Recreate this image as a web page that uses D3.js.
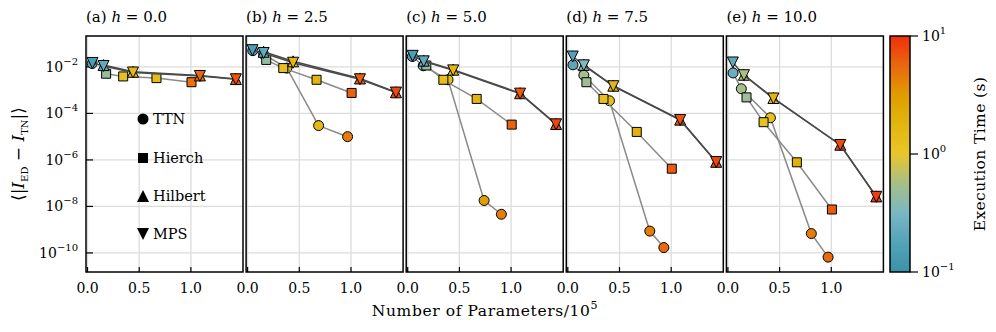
<!DOCTYPE html>
<html>
<head>
<meta charset="utf-8">
<script src="https://cdn.jsdelivr.net/npm/d3@7"></script>
<style>
  body { margin: 0; background: #fff; }
  svg text { font-family: "DejaVu Serif", serif; fill: #000; }
</style>
</head>
<body>
<svg id="chart" width="996" height="332"></svg>
<script>
// panel labels
const panelLetters = ['a', 'b', 'c', 'd', 'e'];
const hValues = ['0.0', '2.5', '5.0', '7.5', '10.0'];

// ticks
const xTicks = [0, 0.5, 1.0];
const yTicks = [1e-10, 1e-8, 1e-6, 1e-4, 1e-2];
const cbTicks = [0.1, 1, 10];

// TTN (circles)
const ttnX = [
  [0.045],
  [0.05, 0.155, 0.38, 0.687, 0.967],
  [0.045, 0.15, 0.39, 0.739, 0.906],
  [0.05, 0.155, 0.403, 0.793, 0.929],
  [0.05, 0.13, 0.411, 0.807, 0.969]
];
const ttnErr = [
  [1.4e-2],
  [5.0e-2, 3.5e-2, 8.9e-3, 3.0e-5, 1.0e-5],
  [2.8e-2, 1.12e-2, 2.8e-3, 1.8e-8, 4.6e-9],
  [1.23e-2, 4.4e-3, 3.5e-4, 8.7e-10, 1.7e-10],
  [5.5e-3, 1.15e-3, 6.5e-5, 6.8e-10, 6.6e-11]
];
const ttnTime = [
  [0.18],
  [0.16, 0.3, 1.2, 1.6, 4.5],
  [0.17, 0.4, 1.3, 3.0, 4.5],
  [0.2, 0.55, 1.3, 4.5, 5.5],
  [0.25, 0.55, 1.2, 4.5, 5.5]
];

// Hierch (squares)
const hierchX = [0.18, 0.345, 0.667, 1.006];
const hierchErr = [
  [5.1e-3, 3.9e-3, 3.3e-3, 2.2e-3],
  [2.0e-2, 8.9e-3, 2.8e-3, 7.6e-4],
  [1.15e-2, 2.8e-3, 4.2e-4, 3.3e-5],
  [2.2e-3, 4.2e-4, 1.6e-5, 4.2e-7],
  [4.9e-4, 4.2e-5, 7.9e-7, 7.4e-9]
];
const hierchTime = [
  [0.45, 1.2, 1.4, 5.0],
  [0.45, 1.3, 1.8, 6.0],
  [0.45, 1.3, 1.8, 6.0],
  [0.5, 1.3, 2.0, 6.5],
  [0.5, 1.2, 2.0, 6.5]
];

// Hilbert (up triangles)
const hilbertX = [0.155, 0.44, 1.087, 1.435];
const hilbertErr = [
  [1.2e-2, 6.2e-3, 4.3e-3, 3.0e-3],
  [4.5e-2, 1.74e-2, 3.2e-3, 8.1e-4],
  [1.86e-2, 7.6e-3, 7.4e-4, 3.5e-5],
  [1.23e-2, 1.55e-3, 5.4e-5, 8.3e-7],
  [4.6e-3, 4.6e-4, 4.5e-6, 2.7e-8]
];
const hilbertTime = [
  [0.22, 1.6, 5.5, 7.0],
  [0.22, 1.7, 6.0, 7.5],
  [0.22, 1.7, 6.5, 8.0],
  [0.35, 1.7, 7.0, 8.0],
  [0.6, 1.7, 7.5, 8.5]
];

// MPS (down triangles)
const mpsX = [0.048, 0.155, 0.44, 1.087, 1.435];
const mpsErr = [
  [1.48e-2, 1.10e-2, 5.75e-3, 4.07e-3, 2.95e-3],
  [5.25e-2, 3.98e-2, 1.51e-2, 2.95e-3, 7.9e-4],
  [3.0e-2, 1.74e-2, 7.1e-3, 7.1e-4, 3.4e-5],
  [2.8e-2, 1.17e-2, 1.48e-3, 5.2e-5, 8.1e-7],
  [1.55e-2, 4.4e-3, 4.4e-4, 4.4e-6, 2.6e-8]
];
const mpsTime = [
  [0.15, 0.22, 1.6, 5.5, 7.0],
  [0.15, 0.22, 1.7, 6.0, 7.5],
  [0.15, 0.22, 1.7, 6.5, 8.0],
  [0.18, 0.35, 1.7, 7.0, 8.0],
  [0.22, 0.6, 1.7, 7.5, 8.5]
];

const legendNames = ['TTN', 'Hierch', 'Hilbert', 'MPS'];

// layout
const mTop = 36, ph = 236, pw = 157, left0 = 86, step = 160.1;
const svg = d3.select('#chart');

const x = d3.scaleLinear().domain([-0.0145, 1.504]).range([0, pw]);
const y = d3.scaleLog().domain([Math.pow(10, -10.82), Math.pow(10, -0.67)]).range([ph, 0]);

const cmapStops = ['#3a93aa', '#52a3b8', '#7ab7c4', '#a6bf88', '#e8c62a', '#e3b60e', '#e09c00', '#e9680e', '#f0300a'];
const color = d3.scaleSequentialLog(d3.piecewise(d3.interpolateRgb, cmapStops)).domain([0.1, 10]);

const tri = s => `M0,${-s}L${s},${s}L${-s},${s}Z`;
const triDown = s => `M0,${s}L${s},${-s}L${-s},${-s}Z`;
const square = s => `M${-s},${-s}H${s}V${s}H${-s}Z`;

function sup(sel, base, exp, size) {
  sel.append('tspan').text(base);
  sel.append('tspan').attr('dy', -7).attr('font-size', size).text(exp);
}

function drawSeries(g, xs, ys, ts, lineColor, shape) {
  const line = d3.line().x(d => x(d[0])).y(d => y(d[1]));
  const pts = xs.map((v, i) => [v, ys[i], ts[i]]);
  g.append('path')
    .attr('d', line(pts))
    .attr('fill', 'none')
    .attr('stroke', lineColor)
    .attr('stroke-width', 1.5);
  pts.forEach(p => {
    const m = shape === 'circle'
      ? g.append('circle').attr('cx', x(p[0])).attr('cy', y(p[1])).attr('r', 5)
      : g.append('path').attr('transform', `translate(${x(p[0])},${y(p[1])})`).attr('d', shape);
    m.attr('fill', color(p[2])).attr('stroke', '#000').attr('stroke-width', 1);
  });
}

for (let i = 0; i < 5; i++) {
  const g = svg.append('g').attr('transform', `translate(${left0 + i * step},${mTop})`);

  // grid
  g.selectAll('.gx').data(xTicks).join('line')
    .attr('x1', d => x(d)).attr('x2', d => x(d)).attr('y1', 0).attr('y2', ph)
    .attr('stroke', '#dcdcdc').attr('stroke-width', 1.3);
  g.selectAll('.gy').data(yTicks).join('line')
    .attr('x1', 0).attr('x2', pw).attr('y1', d => y(d)).attr('y2', d => y(d))
    .attr('stroke', '#dcdcdc').attr('stroke-width', 1.3);

  // bottom ticks (inside) and labels
  g.selectAll('.tx').data(xTicks).join('line')
    .attr('x1', d => x(d)).attr('x2', d => x(d)).attr('y1', ph).attr('y2', ph - 5)
    .attr('stroke', '#000').attr('stroke-width', 1.2);
  g.selectAll('.lx').data(xTicks).join('text')
    .attr('x', d => x(d)).attr('y', ph + 21)
    .attr('text-anchor', 'middle').attr('font-size', 14)
    .text(d => d.toFixed(1));

  if (i === 0) {
    g.selectAll('.ty').data(yTicks).join('line')
      .attr('x1', 0).attr('x2', 7).attr('y1', d => y(d)).attr('y2', d => y(d))
      .attr('stroke', '#000').attr('stroke-width', 1.2);
    yTicks.forEach(t => {
      const e = Math.round(Math.log10(t));
      const txt = g.append('text').attr('x', -8).attr('y', y(t) + 5)
        .attr('text-anchor', 'end').attr('font-size', 14);
      sup(txt, '10', '\u2212' + Math.abs(e), 10);
    });
  }

  // title
  const title = g.append('text').attr('x', 0).attr('y', -14).attr('font-size', 15);
  title.append('tspan').text(`(${panelLetters[i]}) `);
  title.append('tspan').attr('font-style', 'italic').text('h');
  title.append('tspan').text(` = ${hValues[i]}`);

  // series
  drawSeries(g, ttnX[i], ttnErr[i], ttnTime[i], '#8a8a8a', 'circle');
  drawSeries(g, hierchX, hierchErr[i], hierchTime[i], '#8a8a8a', square(4.5));
  drawSeries(g, hilbertX, hilbertErr[i], hilbertTime[i], '#4a4a4a', tri(5.5));
  drawSeries(g, mpsX, mpsErr[i], mpsTime[i], '#4a4a4a', triDown(5.5));

  // frame
  g.append('rect').attr('width', pw).attr('height', ph)
    .attr('fill', 'none').attr('stroke', '#000').attr('stroke-width', 1.5);

  if (i === 0) {
    const shapes = ['circle', square(5), tri(6), triDown(6)];
    const ly = [83, 122, 160, 198];
    legendNames.forEach((n, k) => {
      const mx = 57;
      if (shapes[k] === 'circle') g.append('circle').attr('cx', mx).attr('cy', ly[k]).attr('r', 5.5);
      else g.append('path').attr('transform', `translate(${mx},${ly[k]})`).attr('d', shapes[k]);
      g.append('text').attr('x', mx + 10).attr('y', ly[k] + 5).attr('font-size', 14.5).text(n);
    });
  }
}

// y label
const yl = svg.append('text')
  .attr('transform', `translate(24,${mTop + ph / 2}) rotate(-90)`)
  .attr('text-anchor', 'middle').attr('font-size', 17);
yl.append('tspan').text('\u27E8|');
yl.append('tspan').attr('font-style', 'italic').text('I');
yl.append('tspan').attr('font-size', 10).attr('dy', 4).text('ED');
yl.append('tspan').attr('dy', -4).text(' \u2212 ');
yl.append('tspan').attr('font-style', 'italic').text('I');
yl.append('tspan').attr('font-size', 10).attr('dy', 4).text('TN');
yl.append('tspan').attr('dy', -4).text('|\u27E9');

// x label
const xl = svg.append('text').attr('x', 485).attr('y', 316)
  .attr('text-anchor', 'middle').attr('font-size', 15.5)
  .attr('letter-spacing', 0.6);
sup(xl, 'Number of Parameters/10', '5', 11);

// colorbar
const cbX = 890, cbW = 20;
const cy = d3.scaleLog().domain([0.1, 10]).range([mTop + ph, mTop]);
const defs = svg.append('defs');
const grad = defs.append('linearGradient').attr('id', 'cbGrad')
  .attr('x1', 0).attr('x2', 0).attr('y1', 1).attr('y2', 0);
d3.range(0, 1.0001, 0.05).forEach(t => {
  grad.append('stop').attr('offset', t).attr('stop-color', color(Math.pow(10, 2 * t - 1)));
});
svg.append('rect').attr('x', cbX).attr('y', mTop).attr('width', cbW).attr('height', ph)
  .attr('fill', 'url(#cbGrad)').attr('stroke', '#000').attr('stroke-width', 1.5);
cbTicks.forEach(t => {
  svg.append('line').attr('x1', cbX + cbW).attr('x2', cbX + cbW + 8)
    .attr('y1', cy(t)).attr('y2', cy(t)).attr('stroke', '#000').attr('stroke-width', 1.2);
  const e = Math.round(Math.log10(t));
  const txt = svg.append('text').attr('x', cbX + cbW + 12).attr('y', cy(t) + 5).attr('font-size', 14);
  sup(txt, '10', e < 0 ? '\u2212' + Math.abs(e) : String(e), 10);
});
svg.append('text')
  .attr('transform', `translate(985,${mTop + ph / 2}) rotate(-90)`)
  .attr('text-anchor', 'middle').attr('font-size', 15.5)
  .attr('letter-spacing', 0.4)
  .text('Execution Time (s)');
</script>
</body>
</html>
